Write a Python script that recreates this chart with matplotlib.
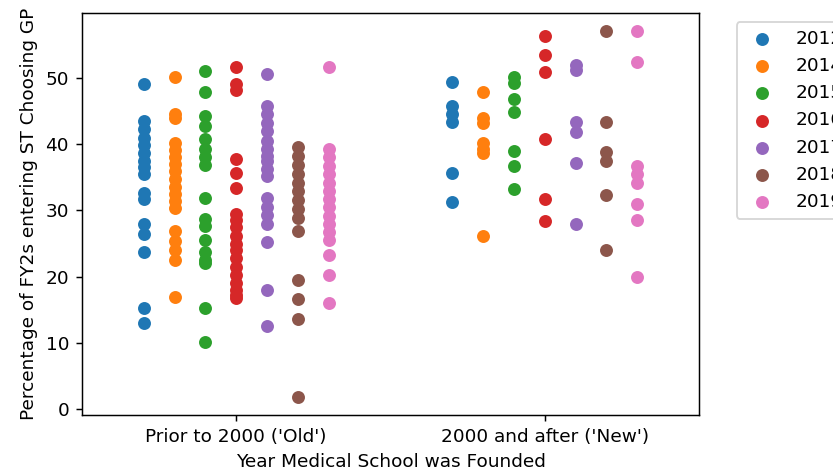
import numpy as np
import matplotlib.pyplot as plt

# Years (legend) and the two founding groups on the x axis
years = ['2012', '2014', '2015', '2016', '2017', '2018', '2019']
groups = ["Prior to 2000 ('Old')", "2000 and after ('New')"]

# Percentage of FY2s entering ST choosing GP
old_2012 = [49.1, 43.5, 42.3, 41.0, 39.8, 38.6, 37.5, 36.5, 35.5, 32.7, 31.7, 27.9, 26.4, 23.7, 15.3, 13.0]
old_2014 = [50.1, 44.6, 43.9, 40.2, 39.1, 38.0, 37.0, 35.9, 34.8, 33.6, 32.5, 31.4, 30.3,
            26.9, 25.4, 24.1, 22.6, 17.0]
old_2015 = [51.0, 47.8, 44.2, 42.8, 40.8, 39.3, 38.0, 36.8, 31.9, 28.7, 27.6, 25.6, 23.8, 22.6,
            22.1, 15.3, 10.2]
old_2016 = [51.6, 49.1, 48.1, 37.7, 35.7, 33.4, 29.4, 28.5, 27.5, 26.2, 25.0, 24.0, 22.8, 21.5,
            20.2, 19.0, 18.0, 17.3, 16.8]
old_2017 = [50.6, 45.8, 44.5, 43.2, 42.0, 40.5, 39.3, 38.2, 37.5, 36.3, 35.2, 31.9, 30.5, 29.3,
            28.0, 25.3, 18.0, 12.6]
old_2018 = [39.5, 38.2, 36.9, 35.5, 34.2, 32.9, 31.5, 30.2, 28.9, 26.9, 19.5, 16.6, 13.6, 1.9]
old_2019 = [51.6, 39.2, 38.0, 36.7, 35.5, 34.2, 33.0, 31.7, 30.5, 29.2, 28.0, 26.7, 25.6, 23.3,
            20.2, 16.1]

new_2012 = [49.3, 45.7, 44.5, 43.3, 35.6, 31.3]
new_2014 = [47.8, 44.0, 43.2, 40.2, 39.2, 38.6, 26.1]
new_2015 = [50.2, 49.2, 46.8, 44.8, 39.0, 36.7, 33.2]
new_2016 = [56.3, 53.5, 50.9, 40.8, 31.7, 28.4]
new_2017 = [51.9, 51.2, 43.3, 41.8, 37.2, 27.9]
new_2018 = [57.0, 43.3, 38.8, 37.5, 32.4, 24.1]
new_2019 = [57.0, 52.4, 36.7, 35.5, 34.2, 30.9, 28.6, 20.0]

old = [old_2012, old_2014, old_2015, old_2016, old_2017, old_2018, old_2019]
new = [new_2012, new_2014, new_2015, new_2016, new_2017, new_2018, new_2019]

colours = plt.rcParams['axes.prop_cycle'].by_key()['color']

fig = plt.figure(figsize=(833 / 133, 470 / 133), dpi=133)
ax = fig.add_axes([0.0984, 0.117, 0.7407, 0.855])

for g, data in enumerate([old, new]):
    for i in range(len(years)):
        x = np.full(len(data[i]), g + (i - 3) * 0.1)
        ax.scatter(x, data[i], color=colours[i], label=years[i] if g == 0 else None)

ax.set_xticks([0, 1])
ax.set_xticklabels(groups)
ax.set_xlim(-0.5, 1.5)
ax.set_xlabel('Year Medical School was Founded')
ax.set_ylabel('Percentage of FY2s entering ST Choosing GP')
# legend sits past the right edge, cut off as in the original
ax.legend(bbox_to_anchor=(1.046, 1), loc='upper left')

fig.savefig('out.png', dpi=133)
